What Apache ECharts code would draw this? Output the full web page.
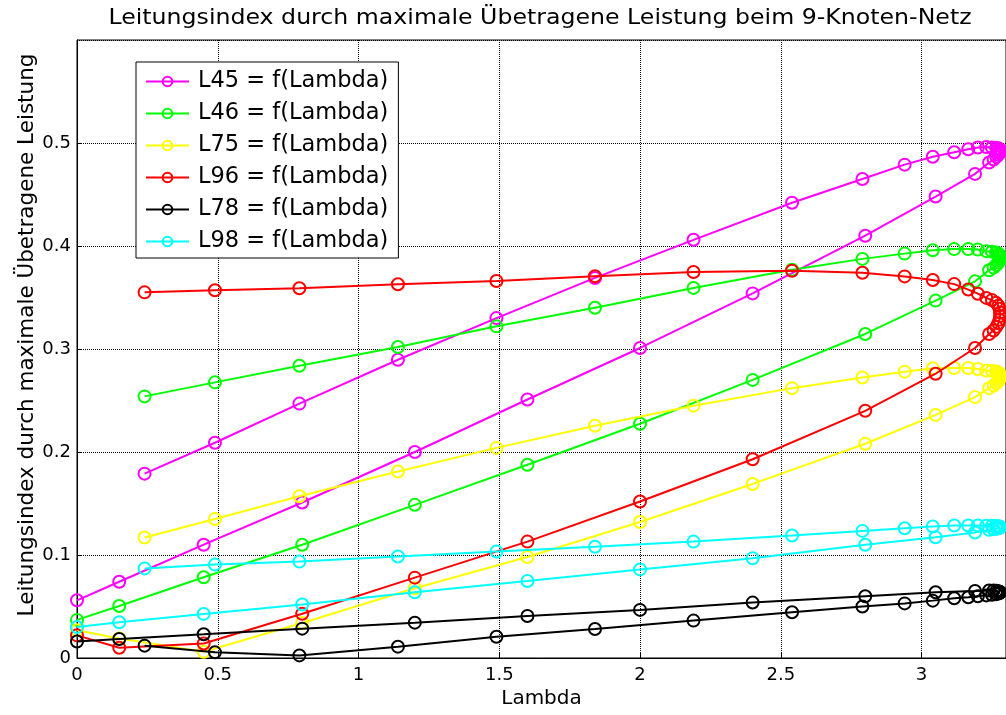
<!DOCTYPE html>
<html>
<head>
<meta charset="utf-8">
<script src="https://cdn.jsdelivr.net/npm/echarts@6/dist/echarts.min.js"></script>
<style>
  html, body { margin: 0; padding: 0; background: #fff; }
  #chart { width: 1006px; height: 715px; }
</style>
</head>
<body>
<div id="chart"></div>
<script>
// Load parameter of the continuation run (rising branch, nose, returning branch)
const lambda = [
  0, 0.15, 0.45, 0.80, 1.20, 1.60, 2.00, 2.40, 2.80, 3.05, 3.19, 3.24,
  3.256, 3.266, 3.273, 3.277, 3.279, 3.279, 3.277, 3.273, 3.265, 3.25,
  3.23, 3.20, 3.166, 3.116, 3.04, 2.94, 2.79, 2.54, 2.19, 1.84, 1.49, 1.14, 0.79, 0.49, 0.24
];

// Line loading index of each branch, one value per lambda step
const L45 = [
  0.056, 0.074, 0.110, 0.151, 0.200, 0.251, 0.301, 0.354, 0.410, 0.448, 0.470, 0.481,
  0.484, 0.4865, 0.4885, 0.490, 0.4915, 0.493, 0.494, 0.495, 0.4953, 0.4957,
  0.496, 0.4956, 0.494, 0.491, 0.4866, 0.479, 0.465, 0.442, 0.406, 0.369, 0.330, 0.2896, 0.247, 0.209, 0.179
];
const L46 = [
  0.037, 0.0505, 0.0784, 0.110, 0.1487, 0.1876, 0.2274, 0.270, 0.3146, 0.347, 0.3657, 0.3764,
  0.379, 0.3815, 0.384, 0.386, 0.388, 0.3898, 0.3913, 0.3926, 0.3937, 0.3945,
  0.395, 0.3965, 0.397, 0.397, 0.3958, 0.3926, 0.3875, 0.377, 0.3593, 0.340, 0.322, 0.302, 0.2838, 0.2676, 0.254
];
const L75 = [
  0.027, 0.019, 0.006, 0.034, 0.0677, 0.098, 0.132, 0.169, 0.208, 0.236, 0.2533, 0.262,
  0.2645, 0.2668, 0.269, 0.271, 0.2728, 0.2745, 0.276, 0.2772, 0.2782, 0.2788,
  0.279, 0.2806, 0.2815, 0.2815, 0.2812, 0.278, 0.2724, 0.262, 0.245, 0.2255, 0.204, 0.181, 0.157, 0.135, 0.117
];
const L96 = [
  0.022, 0.010, 0.014, 0.043, 0.078, 0.113, 0.152, 0.193, 0.240, 0.276, 0.301, 0.3145,
  0.318, 0.3215, 0.325, 0.3285, 0.332, 0.3355, 0.339, 0.342, 0.3448, 0.3475,
  0.3496, 0.3537, 0.3577, 0.363, 0.367, 0.3705, 0.374, 0.376, 0.3748, 0.3706, 0.366, 0.3628, 0.359, 0.357, 0.355
];
const L78 = [
  0.016, 0.0185, 0.023, 0.0285, 0.0343, 0.0408, 0.0467, 0.0538, 0.060, 0.0638, 0.065, 0.0655,
  0.0655, 0.0652, 0.0648, 0.0644, 0.064, 0.0636, 0.0631, 0.0626, 0.062, 0.0614,
  0.0608, 0.060, 0.059, 0.058, 0.0557, 0.053, 0.050, 0.0444, 0.0363, 0.0282, 0.0207, 0.011, 0.0025, 0.0055, 0.012
];
const L98 = [
  0.030, 0.0347, 0.0428, 0.052, 0.0638, 0.0747, 0.086, 0.0969, 0.110, 0.1173, 0.1218, 0.1244,
  0.125, 0.1255, 0.126, 0.1265, 0.127, 0.1273, 0.1276, 0.1279, 0.1281, 0.1283,
  0.1284, 0.1286, 0.1286, 0.1286, 0.1276, 0.126, 0.1234, 0.1189, 0.113, 0.108, 0.1033, 0.0985, 0.0936, 0.0907, 0.087
];

const seriesNames = [
  'L45 = f(Lambda)', 'L46 = f(Lambda)', 'L75 = f(Lambda)',
  'L96 = f(Lambda)', 'L78 = f(Lambda)', 'L98 = f(Lambda)'
];
const seriesValues = [L45, L46, L75, L96, L78, L98];
const seriesColors = ['#ff00ff', '#00ff00', '#ffff00', '#ff0000', '#000000', '#00ffff'];

const FONT = 'DejaVu Sans';
const chartTitle = 'Leitungsindex durch maximale Übetragene Leistung beim 9-Knoten-Netz';
const yTitle = 'Leitungsindex durch maximale Übetragene Leistung';

const series = seriesNames.map((name, k) => ({
  name: name,
  type: 'line',
  data: lambda.map((x, i) => [x, seriesValues[k][i]]),
  symbol: 'circle',
  symbolSize: 12,
  lineStyle: { color: seriesColors[k], width: 2 },
  itemStyle: { color: 'rgba(255,255,255,0)', borderColor: seriesColors[k], borderWidth: 2 },
  emphasis: { disabled: true },
  z: 3 + k
}));

const chart = echarts.init(document.getElementById('chart'), null, { renderer: 'canvas' });
chart.setOption({
  animation: false,
  backgroundColor: '#ffffff',
  grid: {
    left: 77, top: 40, width: 934, height: 618,
    show: true, borderColor: '#000', borderWidth: 1, backgroundColor: '#fff'
  },
  legend: {
    orient: 'vertical',
    left: 136, top: 62,
    padding: [8, 10, 5, 9],
    itemGap: 9,
    itemWidth: 43,
    itemHeight: 12,
    backgroundColor: '#fff',
    borderColor: '#000',
    borderWidth: 1,
    data: seriesNames,
    textStyle: { fontFamily: FONT, fontSize: 22.5, color: '#000', lineHeight: 22, padding: [0, 0, 0, 4] }
  },
  graphic: [
    {
      // chart title, slightly widened lettering
      type: 'text',
      x: 540, y: 18,
      scaleX: 1.1,
      style: {
        text: chartTitle,
        font: '21.5px "DejaVu Sans"',
        fill: '#000',
        align: 'center',
        verticalAlign: 'middle'
      },
      z: 10
    },
    {
      // vertical y-axis title
      type: 'text',
      x: 27, y: 335,
      rotation: Math.PI / 2,
      style: {
        text: yTitle,
        font: '21.5px "DejaVu Sans"',
        fill: '#000',
        align: 'center',
        verticalAlign: 'middle'
      },
      z: 10
    }
  ],
  xAxis: {
    type: 'value',
    min: 0, max: 3.3, interval: 0.5,
    name: 'Lambda',
    nameLocation: 'middle',
    nameGap: 28,
    nameTextStyle: { fontFamily: FONT, fontSize: 20, color: '#000' },
    axisLine: { show: true, lineStyle: { color: '#000', width: 1 } },
    axisTick: { show: true, inside: true, length: 5, lineStyle: { color: '#000' } },
    axisLabel: { fontFamily: FONT, fontSize: 18, color: '#000', margin: 8, showMaxLabel: false },
    splitLine: { show: true, lineStyle: { color: '#000', type: 'dotted', width: 1 } }
  },
  yAxis: {
    type: 'value',
    min: 0, max: 0.6, interval: 0.1,
    axisLine: { show: true, lineStyle: { color: '#000', width: 1 } },
    axisTick: { show: true, inside: true, length: 5, lineStyle: { color: '#000' } },
    axisLabel: { fontFamily: FONT, fontSize: 18, color: '#000', margin: 6, showMaxLabel: false },
    splitLine: { show: true, lineStyle: { color: '#000', type: 'dotted', width: 1 } }
  },
  series: series
});
</script>
</body>
</html>
